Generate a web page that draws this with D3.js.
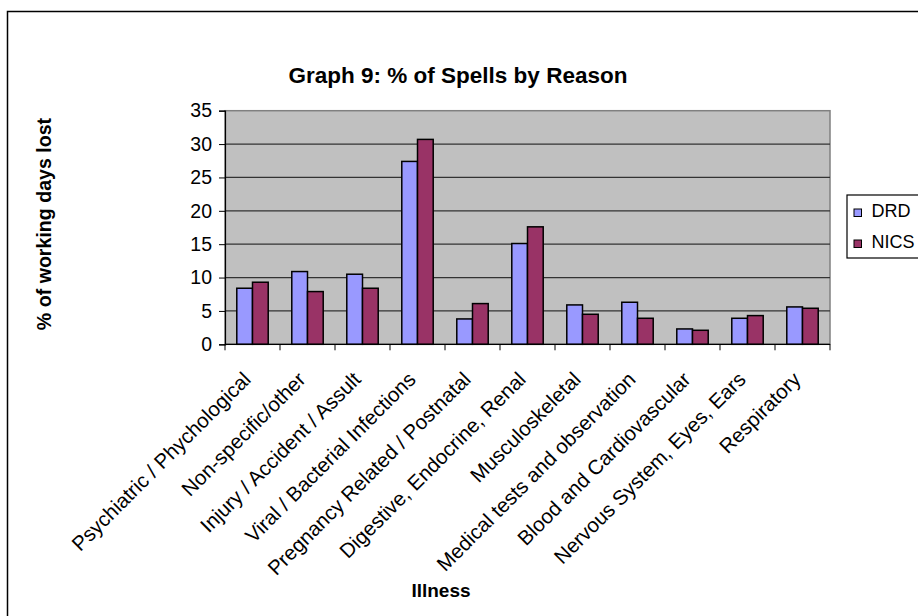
<!DOCTYPE html>
<html><head><meta charset="utf-8">
<script src="https://cdn.jsdelivr.net/npm/d3@7"></script>
<style>html,body{margin:0;padding:0;background:#fff;}svg{display:block;font-family:Arial,"Liberation Sans",sans-serif;}</style>
</head><body>
<svg id="chart" width="918" height="616"></svg>
<script>
const categories = ["Psychiatric / Phychological","Non-specific/other","Injury / Accident / Assult","Viral / Bacterial Infections","Pregnancy Related / Postnatal","Digestive, Endocrine, Renal","Musculoskeletal","Medical tests and observation","Blood and Cardiovascular","Nervous System, Eyes, Ears","Respiratory"];
const seriesNames = ["DRD","NICS"];
const drdValues = [8.4,10.9,10.5,27.4,3.8,15.1,5.9,6.3,2.3,3.9,5.6];
const nicsValues = [9.3,7.9,8.4,30.7,6.1,17.6,4.5,3.9,2.1,4.3,5.4];
const yTicks = [0,5,10,15,20,25,30,35];
const seriesColors = ["#9999FF","#993366"];

const svg = d3.select("#chart");
const plot = {x0:225, x1:830, y0:110.7, y1:344.3};

// outer chart border (extends beyond the picture on right/bottom)
svg.append("rect").attr("x",7.5).attr("y",11.5).attr("width",940).attr("height",640)
  .attr("fill","#fff").attr("stroke","#000").attr("stroke-width",1.5);

const x = d3.scaleBand().domain(categories).range([plot.x0,plot.x1]).paddingInner(0).paddingOuter(0);
const y = d3.scaleLinear().domain([0,35]).range([plot.y1,plot.y0]);
const sub = d3.scaleBand().domain(seriesNames).range([0,x.bandwidth()]).paddingInner(0).paddingOuter(0.75);

// plot background
svg.append("rect").attr("x",plot.x0).attr("y",plot.y0).attr("width",plot.x1-plot.x0).attr("height",plot.y1-plot.y0)
  .attr("fill","#C0C0C0").attr("stroke","#808080").attr("stroke-width",1.5);

// gridlines
svg.append("g").selectAll("line").data(yTicks.filter(d=>d>0 && d<35)).join("line")
  .attr("x1",plot.x0).attr("x2",plot.x1).attr("y1",d=>y(d)).attr("y2",d=>y(d))
  .attr("stroke","#333").attr("stroke-width",1.2);

// bars
const data = categories.map((c,i)=>({cat:c, vals:[{s:"DRD",v:drdValues[i]},{s:"NICS",v:nicsValues[i]}]}));
const groups = svg.append("g").selectAll("g").data(data).join("g")
  .attr("transform",d=>`translate(${x(d.cat)},0)`);
groups.selectAll("rect").data(d=>d.vals).join("rect")
  .attr("x",d=>sub(d.s)).attr("width",sub.bandwidth())
  .attr("y",d=>y(d.v)).attr("height",d=>y(0)-y(d.v))
  .attr("fill",(d,i)=>seriesColors[i]).attr("stroke","#000").attr("stroke-width",1.5);

// y axis
const yAxis = svg.append("g").attr("transform",`translate(${plot.x0},0)`)
  .call(d3.axisLeft(y).tickValues(yTicks).tickSize(6).tickPadding(7));
yAxis.select(".domain").attr("stroke","#000").attr("stroke-width",1.2);
yAxis.selectAll(".tick line").attr("stroke","#000");
yAxis.selectAll("text").attr("font-size",19.5).attr("fill","#000").attr("font-family","Arial, 'Liberation Sans', sans-serif");

// x axis
const xAxis = svg.append("g").attr("transform",`translate(0,${plot.y1})`);
xAxis.append("line").attr("x1",plot.x0).attr("x2",plot.x1).attr("stroke","#000").attr("stroke-width",1.2);
xAxis.selectAll("line.tk").data(d3.range(categories.length+1)).join("line").attr("class","tk")
  .attr("x1",i=>plot.x0+i*x.step()).attr("x2",i=>plot.x0+i*x.step()).attr("y1",0).attr("y2",6)
  .attr("stroke","#000");
xAxis.selectAll("text").data(categories).join("text")
  .attr("transform",d=>`translate(${x(d)+x.bandwidth()/2-11},26) rotate(-45)`)
  .attr("text-anchor","end").attr("dy","0.72em").attr("font-size",20.5).attr("fill","#000")
  .text(d=>d);

// title
svg.append("text").attr("x",458).attr("y",83).attr("text-anchor","middle")
  .attr("font-size",22.5).attr("font-weight","bold").text("Graph 9: % of Spells by Reason");
// y label
svg.append("text").attr("transform",`translate(51,224) rotate(-90)`)
  .attr("text-anchor","middle").attr("font-size",19.6).attr("font-weight","bold").text("% of working days lost");
// x label
svg.append("text").attr("x",441).attr("y",597).attr("text-anchor","middle")
  .attr("font-size",19).attr("font-weight","bold").text("Illness");

// legend
const leg = svg.append("g");
leg.append("rect").attr("x",847).attr("y",195).attr("width",90).attr("height",63)
  .attr("fill","#fff").attr("stroke","#000").attr("stroke-width",1.2);
const li = leg.selectAll("g").data(seriesNames).join("g")
  .attr("transform",(d,i)=>`translate(854,${209+i*31})`);
li.append("rect").attr("width",7.5).attr("height",7.5).attr("fill",(d,i)=>seriesColors[i]).attr("stroke","#000").attr("stroke-width",1);
li.append("text").attr("x",17.5).attr("y",7.5).attr("font-size",18).text(d=>d);
</script>
</body></html>
